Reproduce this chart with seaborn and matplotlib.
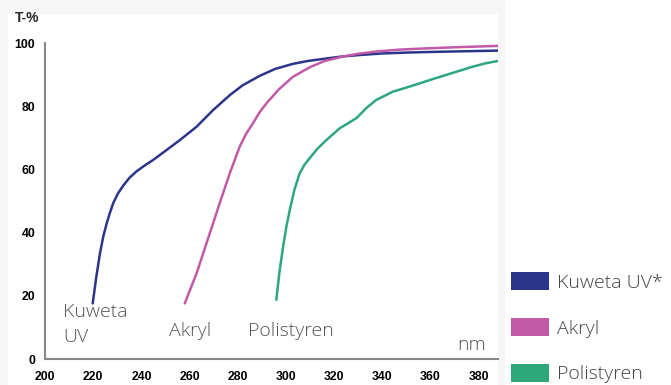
import matplotlib
matplotlib.use("Agg")
import matplotlib.pyplot as plt
import seaborn as sns
import pandas as pd
from matplotlib.patches import Patch, Rectangle

# wavelength (nm) / transmission (%)
kuweta_nm = [219.8, 221.2, 222.8, 224.2, 225.6, 227.0, 228.3, 230.2, 232.5, 235.0,
             238.0, 241.5, 244.9, 250.4, 256.0, 262.9, 269.8, 276.7, 282.0, 289.1,
             295.5, 302.9, 309.0, 316.8, 323.0, 330.6, 340.2, 351.3, 362.0, 375.0,
             388.6]
kuweta_t = [17.6, 25.5, 33.4, 38.8, 42.9, 46.4, 49.3, 52.3, 54.9, 57.3,
            59.4, 61.3, 63.0, 66.1, 69.3, 73.5, 78.8, 83.5, 86.6, 89.6,
            91.8, 93.4, 94.3, 95.1, 95.7, 96.2, 96.7, 97.0, 97.2, 97.4,
            97.6]

akryl_nm = [258.0, 262.9, 268.4, 272.5, 276.7, 280.8, 283.5, 286.3, 289.0, 291.9,
            297.0, 302.9, 309.8, 316.0, 323.6, 330.0, 337.5, 347.0, 358.2, 372.0,
            388.6]
akryl_t = [17.6, 27.1, 39.8, 49.3, 58.8, 67.2, 71.3, 74.6, 78.0, 80.9,
           85.3, 89.3, 92.3, 94.3, 95.7, 96.6, 97.3, 97.9, 98.3, 98.7,
           99.1]

poli_nm = [296.0, 297.3, 298.8, 300.2, 301.6, 303.5, 305.7, 307.7, 309.8, 313.0,
           316.8, 322.3, 329.2, 333.5, 337.5, 344.4, 350.0, 355.4, 361.0, 366.5,
           372.0, 377.5, 383.0, 388.6]
poli_t = [18.7, 27.5, 35.5, 42.0, 47.2, 53.5, 58.8, 61.5, 63.5, 66.5,
          69.3, 73.0, 76.2, 79.5, 82.0, 84.6, 85.9, 87.2, 88.6, 89.9,
          91.2, 92.5, 93.6, 94.4]

names = ["Kuweta UV*", "Akryl", "Polistyren"]
colors = ["#2b3589", "#c15aa7", "#2ea87a"]
xticks = [200, 220, 240, 260, 280, 300, 320, 340, 360, 380]
yticks = [0, 20, 40, 60, 80, 100]

df = pd.concat([
    pd.DataFrame({"nm": kuweta_nm, "T": kuweta_t, "probe": names[0]}),
    pd.DataFrame({"nm": akryl_nm, "T": akryl_t, "probe": names[1]}),
    pd.DataFrame({"nm": poli_nm, "T": poli_t, "probe": names[2]}),
])

sns.set_style("white")
plt.rcParams["font.family"] = ["Liberation Sans", "DejaVu Sans"]

fig = plt.figure(figsize=(6.71, 3.85), dpi=100, facecolor="#f6f6f6")
# white panel behind the chart and white strip for the legend
fig.add_artist(Rectangle((8 / 671, 0), (498 - 8) / 671, 1 - 14 / 385,
                         transform=fig.transFigure, facecolor="white",
                         edgecolor="none", zorder=0))
fig.add_artist(Rectangle((505 / 671, 0), 1, 1, transform=fig.transFigure,
                         facecolor="white", edgecolor="none", zorder=0))

ax = fig.add_axes([45 / 671, 26 / 385, (498 - 45) / 671, (359 - 43) / 385])
ax.set_facecolor("none")

sns.lineplot(data=df, x="nm", y="T", hue="probe", palette=colors,
             hue_order=names, linewidth=1.8, legend=False, ax=ax,
             estimator=None, sort=True)

ax.set_xlim(200, 388)
ax.set_ylim(0, 100)
ax.set_xticks(xticks)
ax.set_yticks(yticks)
ax.set_xlabel("")
ax.set_ylabel("")
for s in ["top", "right"]:
    ax.spines[s].set_visible(False)
for s in ["left", "bottom"]:
    ax.spines[s].set_color("#888888")
    ax.spines[s].set_linewidth(1.5)
ax.tick_params(axis="both", colors="#888888", labelcolor="black",
               direction="out", length=4, width=1.2, labelsize=8.8)
ax.tick_params(axis="x", pad=5)
ax.tick_params(axis="y", pad=3)
for lab in ax.get_xticklabels() + ax.get_yticklabels():
    lab.set_fontweight("bold")

lab_kw = dict(family=["Open Sans", "DejaVu Sans"], color="#555555",
              fontsize=14, fontweight="light")
ax.text(207.6, 17.6, "Kuweta\nUV", va="top", ha="left", linespacing=1.45, **lab_kw)
ax.text(251.6, 9.0, "Akryl", va="center", ha="left", **lab_kw)
ax.text(284.4, 9.0, "Polistyren", va="center", ha="left", **lab_kw)
ax.text(371.0, 4.4, "nm", va="center", ha="left", **lab_kw)

fig.text(15 / 671, 1 - 18 / 385, "T-%", fontsize=10, fontweight="bold",
         va="center", ha="left")

handles = [Patch(facecolor=c, edgecolor="none") for c in colors]
leg = fig.legend(handles, names, loc="upper left",
                 bbox_to_anchor=(511 / 671, 1 - 272 / 385), frameon=False,
                 borderpad=0, borderaxespad=0, handlelength=1.95, handleheight=1.05,
                 handletextpad=0.4, labelspacing=1.35,
                 prop={"family": ["Open Sans", "DejaVu Sans"], "size": 14,
                       "weight": "light"})
for t in leg.get_texts():
    t.set_color("#444444")

fig.savefig("out.png", dpi=100, facecolor=fig.get_facecolor())
